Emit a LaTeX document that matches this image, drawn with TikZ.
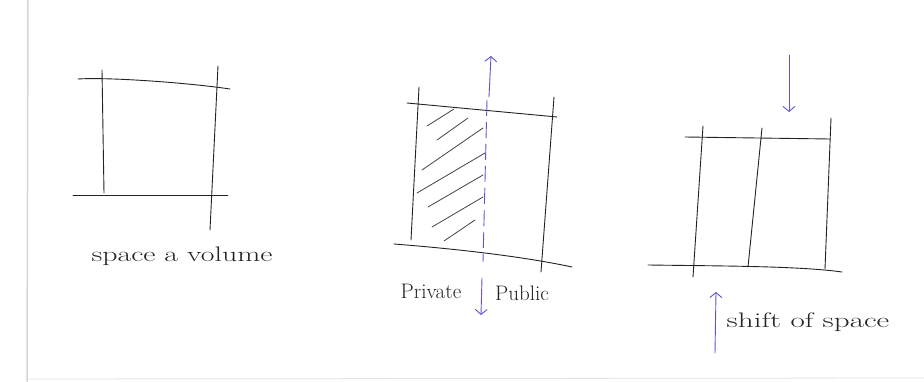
\documentclass[tikz,border=0pt]{standalone}
\usetikzlibrary{arrows.meta}
\definecolor{ink}{RGB}{35,35,35}
\definecolor{bluepen}{RGB}{95,85,205}
\definecolor{paperline}{RGB}{215,215,215}
\tikzset{
  pen/.style={draw=ink, line width=0.9pt, line cap=round},
  hatchline/.style={draw=ink!85, line width=0.8pt, line cap=round},
  bluearrow/.style={draw=bluepen, line width=0.9pt, line cap=round, -{Straight Barb[length=5pt,width=12pt]}},
  bluedash/.style={draw=bluepen, line width=0.9pt, dash pattern=on 16pt off 6pt},
  label/.style={font=\fontsize{21}{23}\selectfont, text=ink, inner sep=0pt}
}
\begin{document}
\begin{tikzpicture}[x=1pt,y=-1pt]
\useasboundingbox (0,0) rectangle (924,382);
\fill[white] (0,0) rectangle (924,382);
% paper edge
\draw[paperline, line width=1.5pt] (28,0) -- (27,382);
\draw[paperline!70, line width=0.8pt] (25,379) -- (924,378);
% sketch 1
\draw[pen] (78,79) .. controls (110,77) and (190,83) .. (230,89);
\draw[pen] (102,70) -- (104,193);
\draw[pen] (218,66) -- (210,230);
\draw[pen] (73,195) -- (228,195);
\node[label, xscale=1.42] (s1) at (182,256) {space a volume};
% sketch 2
\draw[pen] (407,103) -- (557,117);
\draw[pen] (419,87) -- (411,240);
\draw[pen] (554,97) -- (541,272);
\draw[pen] (394,244) .. controls (470,250) and (530,258) .. (572,267);
\draw[hatchline] (427,126) -- (454,109);
\draw[hatchline] (437,140) -- (468,118);
\draw[hatchline] (422,170) -- (483,128);
\draw[hatchline] (417,193) -- (485,153);
\draw[hatchline] (428,207) -- (483,175);
\draw[hatchline] (432,227) -- (483,197);
\draw[hatchline] (444,241) -- (475,220);
\draw[bluedash] (487,100) -- (483,262);
\coordinate (upS) at (489,97);
\coordinate (upE) at (491,56);
\draw[bluearrow] (upS) -- (upE);
\coordinate (dnS) at (482,278);
\coordinate (dnE) at (481,315);
\draw[bluearrow] (dnS) -- (dnE);
\node[label] (priv) at (431,291) {Private};
\node[label] (pub) at (522,293) {Public};
% sketch 3
\draw[pen] (685,137) -- (830,139);
\draw[pen] (703,126) -- (693,277);
\draw[pen] (762,128) -- (748,267);
\draw[pen] (831,118) -- (825,269);
\draw[pen] (648,265) .. controls (720,266) and (800,266) .. (842,272);
\coordinate (tS) at (789,55);
\coordinate (tE) at (789,112);
\draw[bluearrow] (tS) -- (tE);
\coordinate (bS) at (715,353);
\coordinate (bE) at (716,292);
\draw[bluearrow] (bS) -- (bE);
\node[label, xscale=1.48] (shift) at (808,322) {shift of space};
\end{tikzpicture}
\end{document}
